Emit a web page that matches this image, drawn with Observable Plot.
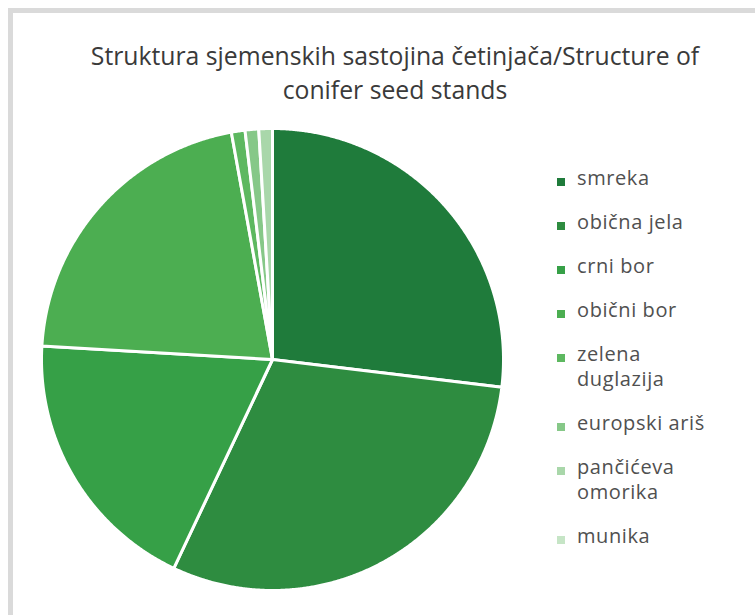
<!DOCTYPE html>
<html><head><meta charset="utf-8">
<script src="https://cdn.jsdelivr.net/npm/d3@7"></script>
<script src="https://cdn.jsdelivr.net/npm/@observablehq/plot@0.6"></script>
<style>
html,body{margin:0;padding:0;background:#fff;}
body{width:755px;height:615px;overflow:hidden;position:relative;font-family:"Open Sans",sans-serif;}
#frame{position:absolute;left:8px;top:8px;right:0;bottom:0;border-left:5px solid #dadada;border-top:5px solid #dadada;}
#chart{position:absolute;left:0;top:0;}
#title{position:absolute;left:0;top:38px;width:790px;text-align:center;font-size:25px;line-height:34px;color:#3a3a3a;}
#title div{transform:scaleX(0.99);transform-origin:center;white-space:nowrap;}
#legend{position:absolute;left:557px;top:165px;}
.item{display:flex;align-items:flex-start;margin-bottom:19px;}
.sw{width:8px;height:8px;flex:none;margin-top:13px;margin-right:12px;}
.lab{font-size:20px;line-height:25px;letter-spacing:0.6px;color:#505050;max-width:140px;}
</style>
</head><body>
<div id="frame"></div>
<div id="chart"></div>
<div id="title"><div>Struktura sjemenskih sastojina četinjača/Structure of</div><div>conifer seed stands</div></div>
<div id="legend"></div>
<script>
const species = ["smreka","obična jela","crni bor","obični bor","zelena duglazija","europski ariš","pančićeva omorika","munika"];
const shares = [26.9, 30.1, 18.9, 21.2, 0.95, 0.95, 0.95, 0];
const colors = ["#1f7b3b","#2e8c40","#36a047","#4cae51","#5db860","#86c888","#a9d7aa","#c6e5c6"];

const arcs = d3.pie().sort(null).value(d => d)(shares);
const features = [];
arcs.forEach((a, i) => {
  if (a.endAngle - a.startAngle <= 0) return;
  const n = Math.max(4, Math.ceil((a.endAngle - a.startAngle) / 0.005));
  const ring = [[0, 0]];
  for (let k = 0; k <= n; k++) {
    const t = a.startAngle + (a.endAngle - a.startAngle) * k / n;
    ring.push([Math.sin(t), -Math.cos(t)]);
  }
  ring.push([0, 0]);
  features.push({type: "Feature", properties: {name: species[i]}, geometry: {type: "Polygon", coordinates: [ring]}});
});

const chart = Plot.plot({
  width: 755, height: 615,
  marginLeft: 41, marginRight: 252, marginTop: 128, marginBottom: 25,
  projection: {type: "identity", domain: {type: "MultiPoint", coordinates: [[-1, -1], [1, 1]]}},
  color: {domain: species, range: colors},
  marks: [
    Plot.geo(features, {fill: d => d.properties.name, stroke: "white", strokeWidth: 3, strokeLinejoin: "round"})
  ]
});
document.getElementById("chart").appendChild(chart);

const legend = document.getElementById("legend");
species.forEach((s, i) => {
  const it = document.createElement("div"); it.className = "item";
  const sw = document.createElement("div"); sw.className = "sw"; sw.style.background = colors[i];
  const lab = document.createElement("div"); lab.className = "lab"; lab.textContent = s;
  it.appendChild(sw); it.appendChild(lab); legend.appendChild(it);
});
</script>
</body></html>
